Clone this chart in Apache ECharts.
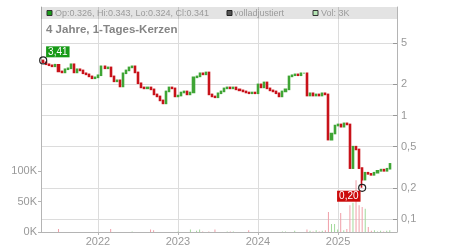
<!DOCTYPE html>
<html><head><meta charset="utf-8">
<script src="https://cdn.jsdelivr.net/npm/echarts@6/dist/echarts.min.js"></script>
<style>html,body{margin:0;padding:0;background:#fff}#c{width:450px;height:250px}</style>
</head><body><div id="c"></div>
<script>
// ---- data ----
const startDate = [2021, 3, 26];   // first sampled trading day (UTC y, m0, d)
const stepDays = 14;               // sampling step of the candles
const closes = [
  3.27,3.13,3.06,2.99,3.10,2.67,2.61,2.80,2.86,3.13,
  2.61,2.80,2.73,2.56,2.50,2.39,2.29,2.34,2.45,2.99,
  2.86,2.92,2.39,2.14,2.19,1.91,2.56,2.73,2.92,2.99,
  2.61,2.05,1.87,1.83,1.87,1.79,1.60,1.53,1.40,1.31,
  1.71,1.87,1.83,1.53,1.56,1.67,1.71,1.60,1.67,2.34,
  2.39,2.56,2.50,2.61,1.60,1.53,1.50,1.64,1.71,1.83,
  1.87,1.83,1.87,1.79,1.75,1.71,1.67,1.64,1.67,1.64,
  2.00,1.87,2.09,1.83,1.75,1.71,1.64,1.53,1.71,1.79,
  2.39,2.45,2.50,2.45,2.56,2.56,1.56,1.64,1.56,1.60,
  1.56,1.64,1.60,0.585,0.67,0.80,0.82,0.78,0.84,0.82,
  0.31,0.50,0.47,0.31,0.24,0.28,0.273,0.267,0.28,0.292,
  0.30,0.292,0.306,0.341
];
const firstOpen = 3.41;
const volumes = [
  0,0,0,0,0,5000,0,0,0,0,
  0,0,0,0,0,0,0,0,0,0,
  0,0,5000,0,0,0,0,0,0,1000,
  0,0,0,0,0,4000,3000,0,0,0,
  0,0,0,0,1000,0,0,0,4000,0,
  2000,4000,1000,0,1000,0,4000,0,0,0,
  1000,1000,1000,0,0,0,0,3000,0,0,
  0,0,0,0,0,0,0,0,1000,1000,
  0,0,2000,0,0,0,4000,2000,1000,3000,
  1000,2000,3000,33000,13000,13000,4000,31000,3000,5000,
  44000,48000,85000,44000,41000,38000,8000,2000,3000,1000,
  2000,1000,2000,3000
];
const yearTicks = [2022, 2023, 2024, 2025];
const priceTicks = [0.1, 0.2, 0.5, 1, 2, 5];
const volumeTicks = [0, 50000, 100000];
const startHigh = { index: 0, value: 3.41, label: '3,41' };
const periodLow = { index: 104, value: 0.20, label: '0,20' };
const titleText = '4 Jahre, 1-Tages-Kerzen';
const legendOHLC = 'Op:0.326, Hi:0.343, Lo:0.324, Cl:0.341';
const legendAdj = 'volladjustiert';
const legendVol = 'Vol: 3K';

// ---- build ----
const DAY = 86400000;
const t0 = Date.UTC(startDate[0], startDate[1], startDate[2]);
const dates = closes.map((_, i) => t0 + i * stepDays * DAY);
const UP = '#3fa535', DOWN = '#c8121a';
const candles = closes.map((c, i) => {
  const o = i === 0 ? firstOpen : closes[i - 1];
  let lo = Math.min(o, c), hi = Math.max(o, c);
  if (i === periodLow.index) lo = periodLow.value;
  if (i === startHigh.index) hi = startHigh.value;
  return [dates[i], o, c, lo, hi];
});
const volData = volumes.map((v, i) => ({
  value: [dates[i], v],
  itemStyle: { color: candles[i][2] >= candles[i][1] ? '#a3d99c' : '#f09fa8' }
}));
const yearTs = yearTicks.map(y => Date.UTC(y, 0, 1));
const FONT = 'Liberation Sans, Arial, sans-serif';
const GRID = { left: 41, right: 53, top: 7, bottom: 18 };

const chart = echarts.init(document.getElementById('c'), null, { renderer: 'canvas' });
chart.setOption({
  animation: false,
  textStyle: { fontFamily: FONT },
  grid: GRID,
  xAxis: {
    type: 'value',
    min: Date.UTC(2021, 3, 16),
    max: Date.UTC(2025, 8, 27),
    axisLine: { show: true, onZero: false, lineStyle: { color: '#b4b4b4' } },
    axisTick: { show: true, length: 3, customValues: yearTs, lineStyle: { color: '#b4b4b4' } },
    axisLabel: { customValues: yearTs, color: '#999', fontSize: 11, margin: 4,
      formatter: v => String(new Date(v).getUTCFullYear()) },
    splitLine: { show: true, customValues: yearTs, lineStyle: { color: '#dcdcdc' } }
  },
  yAxis: [
    {
      type: 'value', position: 'left', min: 0, max: 369000,
      axisLine: { show: true, lineStyle: { color: '#b4b4b4' } },
      axisTick: { show: true, length: 3, customValues: volumeTicks, lineStyle: { color: '#b4b4b4' } },
      axisLabel: { customValues: volumeTicks, color: '#999', fontSize: 11, margin: 4,
        formatter: v => (v / 1000) + 'K' },
      splitLine: { show: false }
    },
    {
      type: 'log', logBase: 10, position: 'right', min: 0.0748, max: 11.2,
      axisLine: { show: true, lineStyle: { color: '#b4b4b4' } },
      axisTick: { show: true, inside: true, length: 4, customValues: priceTicks, lineStyle: { color: '#999' } },
      axisLabel: { customValues: priceTicks, color: '#999', fontSize: 11, margin: 4,
        formatter: v => String(v).replace('.', ',') },
      splitLine: { show: true, customValues: priceTicks, lineStyle: { color: '#dcdcdc' } }
    }
  ],
  series: [
    { type: 'bar', xAxisIndex: 0, yAxisIndex: 0, barWidth: 1, data: volData, silent: true },
    {
      type: 'candlestick', xAxisIndex: 0, yAxisIndex: 1, barMaxWidth: 2.6,
      data: candles,
      itemStyle: { color: UP, color0: DOWN, borderColor: UP, borderColor0: DOWN, borderWidth: 1.6 },
      markPoint: {
        symbol: 'circle', symbolSize: 7, silent: true,
        itemStyle: { color: 'rgba(255,255,255,0)', borderColor: '#222', borderWidth: 1.2 },
        data: [
          { coord: [dates[startHigh.index], startHigh.value],
            label: { show: true, formatter: startHigh.label, position: [7, -10],
              color: '#fff', fontSize: 10, backgroundColor: '#169a16', padding: [1, 2, 0, 2] } },
          { coord: [dates[periodLow.index], periodLow.value],
            label: { show: true, formatter: periodLow.label, position: [-21, 7],
              color: '#fff', fontSize: 10, backgroundColor: '#cc0a0a', padding: [1, 2, 0, 2] } }
        ]
      }
    }
  ],
  graphic: [
    { type: 'rect', z: 100, silent: true, shape: { x: 41, y: 7, width: 356, height: 12 },
      style: { fill: 'rgba(0,0,0,0.11)' } },
    { type: 'rect', z: 101, shape: { x: 47, y: 10.5, width: 5, height: 5 },
      style: { fill: '#1a9e1a', stroke: '#333', lineWidth: 1 } },
    { type: 'text', z: 101, x: 55, y: 13.5,
      style: { text: legendOHLC, fill: '#9a9a9a', fontSize: 9, fontFamily: FONT, verticalAlign: 'middle' } },
    { type: 'rect', z: 101, shape: { x: 227, y: 10.5, width: 5, height: 5 },
      style: { fill: '#555', stroke: '#222', lineWidth: 1 } },
    { type: 'text', z: 101, x: 234, y: 13.5,
      style: { text: legendAdj, fill: '#9a9a9a', fontSize: 9, fontFamily: FONT, verticalAlign: 'middle' } },
    { type: 'rect', z: 101, shape: { x: 313, y: 10.5, width: 5, height: 5 },
      style: { fill: '#b4e4b4', stroke: '#333', lineWidth: 1 } },
    { type: 'text', z: 101, x: 321, y: 13.5,
      style: { text: legendVol, fill: '#9a9a9a', fontSize: 9, fontFamily: FONT, verticalAlign: 'middle' } },
    { type: 'text', z: 101, x: 46, y: 30,
      style: { text: titleText, fill: '#858585', fontSize: 11.5, fontWeight: 'bold', fontFamily: FONT, verticalAlign: 'middle' } }
  ]
});
</script>
</body></html>
